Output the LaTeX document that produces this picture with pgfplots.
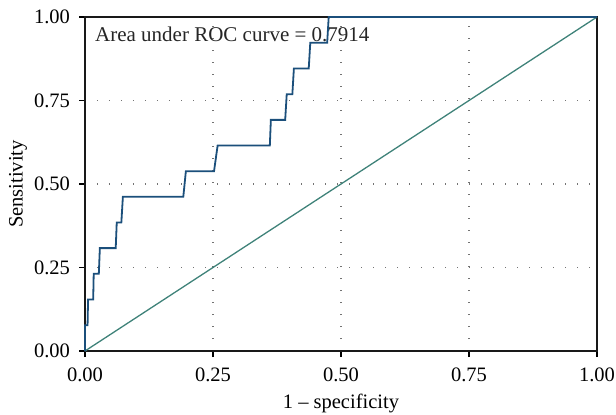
\documentclass[border=0pt]{standalone}
\usepackage{fontspec}
\setmainfont{Liberation Serif}
\usepackage{pgfplots}
\pgfplotsset{compat=1.18}
\definecolor{roccol}{HTML}{1B4F7B}
\definecolor{diagcol}{HTML}{3F8279}
\begin{document}
\fontsize{20.5bp}{24bp}\selectfont
\begin{tikzpicture}
\begin{axis}[
    name=ax,
    scale only axis,
    width=512bp, height=334bp,
    xmin=0, xmax=1, ymin=0, ymax=1,
    xtick={0,0.25,0.5,0.75,1},
    ytick={0,0.25,0.5,0.75,1},
    /pgf/number format/fixed,
    /pgf/number format/fixed zerofill,
    /pgf/number format/precision=2,
    /pgf/number format/assume math mode=true,
    tick align=outside,
    xtick pos=left, ytick pos=left,
    major tick length=6bp,
    tick style={black, line width=1.4bp},
    axis line style={black!90, line width=1.5bp},
    grid=major,
    major grid style={black!55, line width=1.2bp, dash pattern=on 1.2bp off 10.8bp},
    xlabel={1 – specificity},
    ylabel={Sensitivity},
    xlabel style={at={(axis description cs:0.5,-0.1707)}, anchor=base},
    ylabel style={at={(axis description cs:-0.131,0.5)}, anchor=center},
    every x tick label/.append style={yshift=-4bp},
    every y tick label/.append style={xshift=-2bp},
    clip=false,
]
\node[anchor=base west, xshift=10bp, yshift=-25bp, inner sep=0pt, text=black!85,
      font=\fontsize{21bp}{24bp}\selectfont] at (rel axis cs:0,1) {Area under ROC curve = 0.7914};
\addplot[diagcol, line width=1.3bp] coordinates {(0,0) (1,1)};
\addplot[roccol, line width=1.8bp] coordinates {
(0,0) (0,0.077) (0.005,0.077) (0.006,0.154) (0.016,0.154) (0.017,0.231)
(0.027,0.231) (0.029,0.308) (0.060,0.308) (0.062,0.385) (0.071,0.385)
(0.074,0.462) (0.192,0.462) (0.197,0.538) (0.252,0.538) (0.259,0.615)
(0.361,0.615) (0.363,0.692) (0.391,0.692) (0.394,0.769) (0.405,0.769)
(0.408,0.846) (0.437,0.846) (0.440,0.923) (0.473,0.923) (0.476,1.0)
(1.0,1.0)
};
\end{axis}
\pgfresetboundingbox
\path ([shift={(-85bp,-64bp)}]ax.south west) rectangle ([shift={(19bp,17bp)}]ax.north east);
\end{tikzpicture}
\end{document}
